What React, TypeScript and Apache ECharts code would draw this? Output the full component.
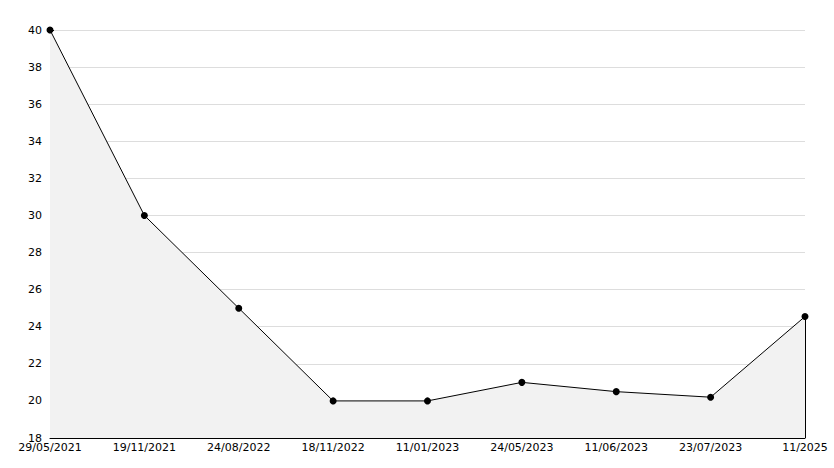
import React, { useEffect, useRef } from "react";
import * as echarts from "echarts";

const categories = [
  "29/05/2021",
  "19/11/2021",
  "24/08/2022",
  "18/11/2022",
  "11/01/2023",
  "24/05/2023",
  "11/06/2023",
  "23/07/2023",
  "11/2025",
];
const values = [40, 30, 25, 20, 20, 21, 20.5, 20.2, 24.55];
const yMin = 18;
const yMax = 40;
const yStep = 2;

export default function App() {
  const ref = useRef<HTMLDivElement>(null);
  useEffect(() => {
    if (!ref.current) return;
    const chart = echarts.init(ref.current, null, { renderer: "svg" });
    const lastIdx = categories.length - 1;
    chart.setOption({
      animation: false,
      backgroundColor: "#ffffff",
      textStyle: { fontFamily: "DejaVu Sans" },
      grid: { left: 50, right: 29, top: 30, bottom: 30 },
      xAxis: {
        type: "category",
        data: categories,
        boundaryGap: false,
        axisLine: { lineStyle: { color: "#000", width: 1 } },
        axisTick: { inside: true, length: 5, lineStyle: { color: "#000" } },
        axisLabel: { color: "#000", fontSize: 11, margin: 4, fontFamily: "DejaVu Sans", showMaxLabel: true, showMinLabel: true, interval: 0 },
        splitLine: { show: false },
      },
      yAxis: {
        type: "value",
        min: yMin,
        max: yMax,
        interval: yStep,
        axisLine: { show: true, lineStyle: { color: "#000", width: 1 } },
        axisTick: { show: true, inside: true, length: 4, lineStyle: { color: "#000" } },
        minorTick: { show: true, splitNumber: 2, length: 3, lineStyle: { color: "#000" } },
        axisLabel: { color: "#000", fontSize: 11, margin: 8, fontFamily: "DejaVu Sans" },
        splitLine: { show: true, lineStyle: { color: "#dddddd", width: 1 } },
      },
      series: [
        {
          type: "line",
          data: values,
          symbol: "circle",
          symbolSize: 7,
          itemStyle: { color: "#000" },
          lineStyle: { color: "#000", width: 1 },
          areaStyle: { color: "#f2f2f2", opacity: 1, origin: "start" },
          markLine: {
            silent: true,
            symbol: "none",
            label: { show: false },
            lineStyle: { color: "#000", width: 1, type: "solid" },
            data: [[{ coord: [lastIdx, yMin] }, { coord: [lastIdx, values[lastIdx]] }]],
          },
        },
      ],
    });
    return () => chart.dispose();
  }, []);
  return <div ref={ref} style={{ width: 834, height: 468, position: "absolute", left: 0, top: 0 }} />;
}
